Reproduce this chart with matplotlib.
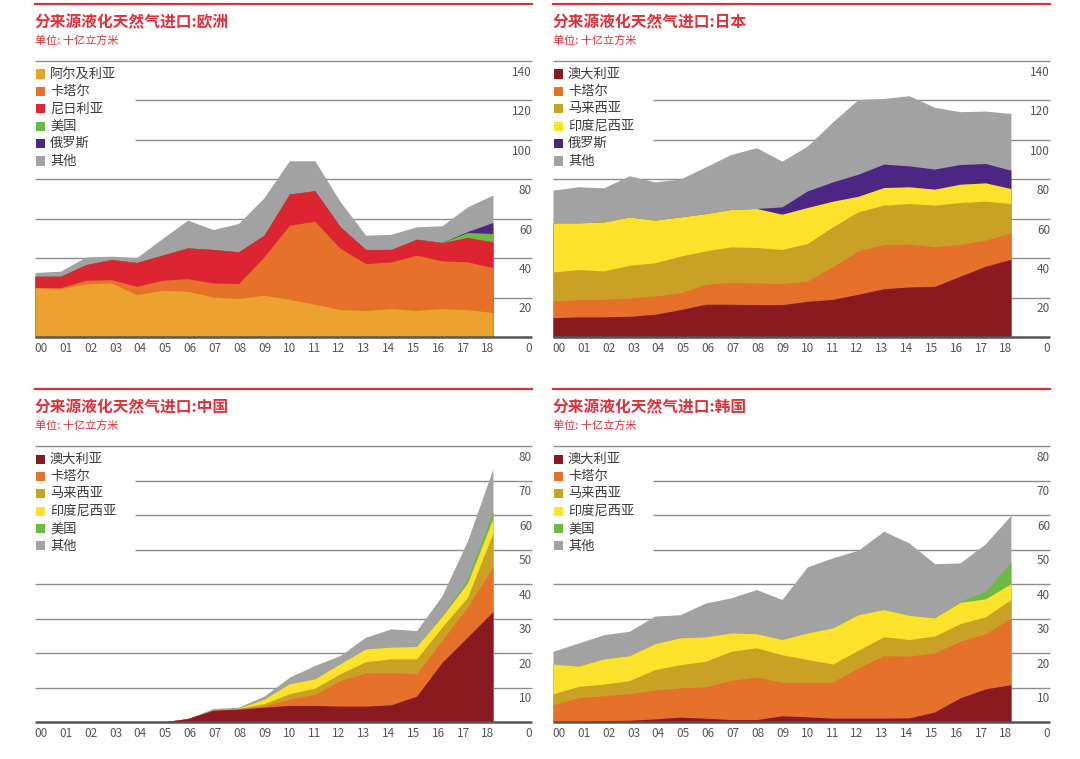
import matplotlib
matplotlib.use("Agg")
import matplotlib.pyplot as plt
from matplotlib.patches import Rectangle
import numpy as np

plt.rcParams['font.family'] = ['Noto Sans CJK SC', 'DejaVu Sans']

W, H = 1080, 759

years = ['00', '01', '02', '03', '04', '05', '06', '07', '08', '09',
         '10', '11', '12', '13', '14', '15', '16', '17', '18']

# ---- Europe (bcm) ----
eu_labels = ['阿尔及利亚', '卡塔尔', '尼日利亚', '美国', '俄罗斯', '其他']
eu_algeria = [25.0, 24.5, 27.0, 27.4, 21.5, 23.7, 23.2, 20.3, 19.5, 21.2, 19.1, 16.6, 13.9, 13.5, 14.4, 13.5, 14.4, 13.9, 12.4]
eu_qatar = [0.0, 0.5, 1.8, 1.7, 4.2, 5.1, 6.4, 7.1, 7.6, 19.4, 37.6, 42.1, 31.0, 23.7, 23.7, 28.0, 24.2, 24.2, 22.8]
eu_nigeria = [5.8, 5.8, 7.9, 10.2, 12.1, 12.7, 15.6, 17.0, 16.1, 11.0, 15.8, 15.5, 11.0, 7.2, 6.3, 8.1, 9.3, 12.4, 13.1]
eu_usa = [0, 0, 0, 0, 0, 0, 0, 0, 0, 0, 0, 0, 0, 0, 0, 0, 0.1, 2.5, 4.2]
eu_russia = [0, 0, 0, 0, 0, 0, 0, 0, 0, 0, 0, 0, 0, 0, 0, 0, 0, 0.5, 5.6]
eu_other = [1.9, 2.6, 3.9, 1.7, 2.5, 8.4, 14.1, 10.1, 14.4, 19.0, 16.9, 15.2, 12.7, 7.2, 7.7, 6.3, 8.4, 12.5, 13.9]

# ---- Japan ----
jp_labels = ['澳大利亚', '卡塔尔', '马来西亚', '印度尼西亚', '俄罗斯', '其他']
jp_australia = [9.8, 10.2, 10.2, 10.5, 11.5, 13.9, 16.6, 16.6, 16.4, 16.4, 18.1, 19.1, 21.7, 24.5, 25.4, 25.7, 30.8, 35.9, 39.4]
jp_qatar = [8.3, 8.8, 8.9, 9.3, 9.3, 8.4, 10.1, 11.0, 11.0, 10.7, 10.3, 16.5, 22.0, 22.4, 21.7, 20.0, 16.1, 13.2, 13.4]
jp_malaysia = [14.9, 15.2, 14.4, 16.6, 16.8, 18.7, 17.0, 18.1, 18.0, 17.3, 19.0, 20.3, 19.8, 20.0, 20.6, 21.2, 21.3, 19.8, 14.9]
jp_indonesia = [24.9, 23.7, 24.9, 24.5, 21.7, 19.9, 18.9, 19.0, 19.8, 17.9, 18.3, 13.0, 7.9, 8.9, 8.5, 8.1, 9.3, 9.3, 7.6]
jp_russia = [0, 0, 0, 0, 0, 0, 0, 0, 0, 3.7, 8.4, 9.8, 11.2, 11.9, 10.6, 10.2, 10.0, 9.8, 9.3]
jp_other = [16.6, 18.3, 17.3, 20.9, 19.4, 19.2, 23.7, 27.9, 30.8, 23.2, 22.7, 30.5, 37.9, 33.3, 35.6, 31.3, 26.8, 26.6, 28.8]

# ---- China ----
cn_labels = ['澳大利亚', '卡塔尔', '马来西亚', '印度尼西亚', '美国', '其他']
cn_australia = [0, 0, 0, 0, 0, 0, 1.0, 3.4, 3.7, 4.3, 4.8, 4.8, 4.6, 4.6, 5.0, 7.5, 17.3, 24.6, 32.0]
cn_qatar = [0, 0, 0, 0, 0, 0, 0, 0, 0.2, 0.3, 1.8, 3.2, 7.4, 9.6, 9.3, 6.5, 6.3, 8.7, 12.9]
cn_malaysia = [0, 0, 0, 0, 0, 0, 0, 0, 0, 0.7, 1.6, 1.8, 2.0, 3.3, 4.0, 4.3, 3.9, 2.8, 9.9]
cn_indonesia = [0, 0, 0, 0, 0, 0, 0, 0, 0.1, 1.3, 2.9, 2.7, 2.9, 3.7, 3.4, 3.6, 3.1, 4.2, 4.2]
cn_usa = [0, 0, 0, 0, 0, 0, 0, 0, 0, 0, 0, 0, 0, 0, 0, 0, 0.1, 1.1, 2.0]
cn_other = [0, 0, 0, 0, 0, 0, 0, 0.5, 0.3, 0.9, 1.9, 3.9, 2.4, 3.4, 5.3, 4.6, 5.9, 11.1, 12.4]

# ---- Korea ----
kr_labels = ['澳大利亚', '卡塔尔', '马来西亚', '印度尼西亚', '美国', '其他']
kr_australia = [0.2, 0.2, 0.4, 0.5, 0.9, 1.4, 1.1, 0.7, 0.7, 1.8, 1.5, 1.1, 1.1, 1.1, 1.2, 2.9, 7.0, 9.6, 10.8]
kr_qatar = [4.8, 6.8, 7.2, 7.7, 8.3, 8.5, 9.1, 11.4, 12.3, 9.7, 10.0, 10.5, 14.6, 18.1, 17.9, 17.1, 16.4, 15.9, 19.4]
kr_malaysia = [3.2, 3.3, 3.4, 3.8, 6.0, 6.7, 7.4, 8.4, 8.5, 8.0, 6.6, 5.2, 5.1, 5.5, 4.8, 4.9, 5.1, 5.0, 5.3]
kr_indonesia = [8.6, 5.9, 7.3, 7.2, 7.5, 7.8, 7.1, 5.3, 4.1, 4.4, 7.7, 10.5, 10.3, 7.9, 7.0, 5.3, 6.2, 5.2, 4.6]
kr_usa = [0, 0, 0, 0, 0, 0, 0, 0, 0, 0, 0, 0, 0, 0, 0, 0, 0.3, 2.2, 6.2]
kr_other = [3.7, 6.7, 7.0, 7.1, 8.0, 6.7, 9.8, 10.2, 12.8, 11.6, 19.2, 20.3, 18.7, 22.7, 21.0, 15.7, 11.1, 13.8, 13.6]

# colours
C_ALG = '#EBA22E'
C_QAT = '#E5712A'
C_NIG = '#DC2531'
C_USA = '#6CB944'
C_RUS = '#4B2683'
C_OTH = '#A2A2A2'
C_AUS = '#8A1A1F'
C_MAL = '#C9A124'
C_IND = '#FCE22A'
RED = '#E0303A'

fig = plt.figure(figsize=(W / 100, H / 100), dpi=100)


def fx(x):
    return x / W


def fy(y):
    return 1 - y / H


def draw_panel(x0, red_y, title, layers, colors, labels, ymax, ystep, n_short):
    grid_top = red_y + 57
    base = red_y + 333
    title_y = red_y + 18
    x1 = x0 + 497
    step = 25.44
    xmax = 497 / step

    # header
    fig.add_artist(plt.Line2D([fx(x0), fx(x1)], [fy(red_y), fy(red_y)],
                              color=RED, lw=1.6, transform=fig.transFigure))
    fig.text(fx(x0), fy(title_y + 0.5), title, color=RED, fontsize=11.3,
             fontweight='bold', va='center', ha='left')
    fig.text(fx(x0), fy(title_y + 18.5), '单位: 十亿立方米', color=RED,
             fontsize=8, va='center', ha='left')

    ax = fig.add_axes([fx(x0), fy(base), (x1 - x0) / W, (base - grid_top) / H])
    ax.set_xlim(0, xmax)
    ax.set_ylim(0, ymax)
    ax.axis('off')

    x = np.arange(len(years))
    cum = np.cumsum(np.array(layers, dtype=float), axis=0)
    # paint from the top layer down so adjacent areas have no seams
    for k in range(len(layers) - 1, -1, -1):
        ax.fill_between(x, 0, cum[k], color=colors[k], lw=0, zorder=2)

    # grid lines (behind the areas)
    ticks = np.arange(0, ymax + 0.1, ystep)
    n = len(ticks) - 1
    for idx, v in enumerate(ticks):
        if idx == 0:
            continue
        short = (n - n_short) <= idx < n
        xs = 100 / step if short else 0
        ax.hlines(v, xs, xmax, color='#8c8c8c', lw=1.0, zorder=1, clip_on=False)
    ax.hlines(0, 0, xmax, color='#555555', lw=1.8, zorder=3, clip_on=False)

    for v in ticks:
        ax.annotate('%d' % v, xy=(xmax, v), xytext=(0, -3.5),
                    textcoords='offset points', ha='right', va='top',
                    fontsize=8.5, color='#555555', annotation_clip=False)
    for i, lbl in enumerate(years):
        pos = 0.235 + 0.976 * i
        ax.annotate(lbl, xy=(pos, 0), xytext=(0, -3.5),
                    textcoords='offset points', ha='center', va='top',
                    fontsize=8.5, color='#555555', annotation_clip=False)

    # legend
    ly = grid_top + 13
    for c, lab in zip(colors, labels):
        fig.add_artist(Rectangle((fx(x0 + 0.5), fy(ly + 4.5)), 9.5 / W, 9 / H,
                                 transform=fig.transFigure, color=c, lw=0))
        fig.text(fx(x0 + 15), fy(ly), lab, fontsize=9.5, color='#3a3a3a',
                 va='center', ha='left')
        ly += 17.4


draw_panel(35, 4, '分来源液化天然气进口:欧洲',
           [eu_algeria, eu_qatar, eu_nigeria, eu_usa, eu_russia, eu_other],
           [C_ALG, C_QAT, C_NIG, C_USA, C_RUS, C_OTH], eu_labels, 140, 20, 2)
draw_panel(553, 4, '分来源液化天然气进口:日本',
           [jp_australia, jp_qatar, jp_malaysia, jp_indonesia, jp_russia, jp_other],
           [C_AUS, C_QAT, C_MAL, C_IND, C_RUS, C_OTH], jp_labels, 140, 20, 2)
draw_panel(35, 389, '分来源液化天然气进口:中国',
           [cn_australia, cn_qatar, cn_malaysia, cn_indonesia, cn_usa, cn_other],
           [C_AUS, C_QAT, C_MAL, C_IND, C_USA, C_OTH], cn_labels, 80, 10, 3)
draw_panel(553, 389, '分来源液化天然气进口:韩国',
           [kr_australia, kr_qatar, kr_malaysia, kr_indonesia, kr_usa, kr_other],
           [C_AUS, C_QAT, C_MAL, C_IND, C_USA, C_OTH], kr_labels, 80, 10, 3)

fig.savefig('out.png', dpi=100)
